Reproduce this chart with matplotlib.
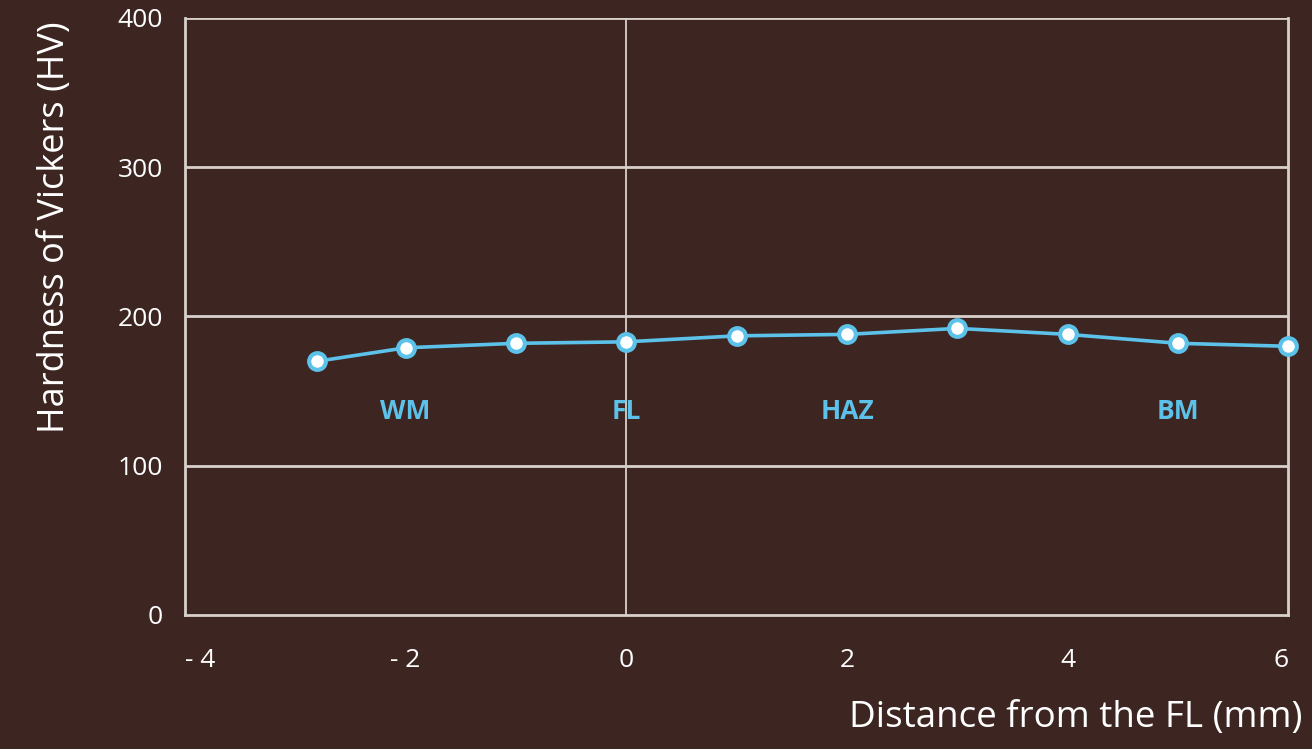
import matplotlib.pyplot as plt

# hardness profile across the weld
distance = [-2.8, -2, -1, 0, 1, 2, 3, 4, 5, 6]
hardness = [170, 179, 182, 183, 187, 188, 192, 188, 182, 180]

zone_names = ['WM', 'FL', 'HAZ', 'BM']
zone_x = [-2, 0, 2, 5]
zone_y = 136

xticks = [-4, -2, 0, 2, 4, 6]
xtick_labels = ['- 4', '- 2', '0', '2', '4', '6']
yticks = [0, 100, 200, 300, 400]

BG = '#3d2622'
GRID = '#d9d0cc'
BLUE = '#5cc2ea'

plt.rcParams['font.family'] = ['Open Sans', 'DejaVu Sans']

fig = plt.figure(figsize=(13.12, 7.49), dpi=100, facecolor=BG)
ax = fig.add_axes([0.141, 0.179, 0.841, 0.797])
ax.set_facecolor(BG)

ax.set_xlim(-4, 6)
ax.set_ylim(0, 400)

for y in yticks[1:]:
    ax.axhline(y, color=GRID, lw=2, zorder=1)
ax.axvline(0, color=GRID, lw=1.3, zorder=1)

for side in ['left', 'bottom', 'right']:
    ax.spines[side].set_color(GRID)
    ax.spines[side].set_linewidth(2)
ax.spines['top'].set_visible(False)

ax.plot(distance, hardness, color=BLUE, lw=2.6, marker='o', ms=12,
        mfc='white', mec=BLUE, mew=3, zorder=3, clip_on=False)

for name, zx in zip(zone_names, zone_x):
    ax.text(zx, zone_y, name, color=BLUE, fontsize=19, fontweight='bold',
            ha='center', va='center')

ax.set_xticks(xticks)
ax.set_xticklabels(xtick_labels)
ax.set_yticks(yticks)
ax.tick_params(axis='both', length=0, colors='white', labelsize=19)
ax.tick_params(axis='x', pad=24)
ax.tick_params(axis='y', pad=16)
labels = ax.get_xticklabels()
labels[0].set_ha('left')
labels[-1].set_ha('right')

ax.set_ylabel('Hardness of Vickers (HV)', color='white', fontsize=26)
ax.yaxis.set_label_coords(-0.118, 0.65)
ax.yaxis.label.set_va('center')
ax.set_xlabel('Distance from the FL (mm)', color='white', fontsize=26.5)
ax.xaxis.set_label_coords(1.013, -0.172)
ax.xaxis.label.set_ha('right')
ax.xaxis.label.set_va('center')

fig.savefig('out.png', dpi=100, facecolor=BG)
